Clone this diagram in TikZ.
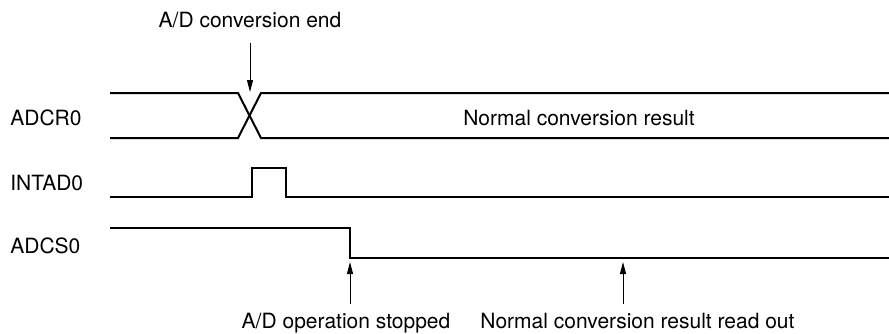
\documentclass[tikz,border=0pt]{standalone}
\usepackage{fontspec}
\setmainfont{TeX Gyre Heros}
\usetikzlibrary{arrows.meta}

\begin{document}
\begin{tikzpicture}[x=0.5pt,y=-0.5pt,>={Triangle[length=6pt,width=3pt]},
  every node/.style={font=\fontsize{10.5}{12}\selectfont,inner sep=0pt},
  wave/.style={line width=1pt,line join=miter},
  marker/.style={->,line width=0.5pt}]
\useasboundingbox (0,0) rectangle (889,333);
% signal names
\node[anchor=base west] (adcr) at (10,125) {ADCR0};
\node[anchor=base west] (intad) at (10,190.5) {INTAD0};
\node[anchor=base west] (adcs) at (10,253) {ADCS0};
\node[anchor=base] (result) at (579,125) {Normal conversion result};
% waveforms
\draw[wave] (110,93) -- (238,93) -- (261,138) -- (889,138);
\draw[wave] (110,138) -- (238,138) -- (261,93) -- (889,93);
\draw[wave] (110,197) -- (252,197) -- (252,168) -- (286,168) -- (286,197) -- (889,197);
\draw[wave] (110,228) -- (350,228) -- (350,258) -- (889,258);
% event markers
\coordinate (endtip) at (250,92);
\coordinate (stoptip) at (350,262);
\coordinate (readtip) at (623,262);
\node[anchor=base] (endlbl) at (250,27) {A/D conversion end};
\node[anchor=base] (stoplbl) at (346,328) {A/D operation stopped};
\node[anchor=base west] (readlbl) at (480,328) {Normal conversion result read out};
\draw[marker,shorten <=7.5pt] (endlbl.south) -- (endtip);
\draw[marker,shorten <=4pt] (stoplbl.north -| stoptip) -- (stoptip);
\draw[marker,shorten <=4pt] (readlbl.north -| readtip) -- (readtip);
\end{tikzpicture}
\end{document}
